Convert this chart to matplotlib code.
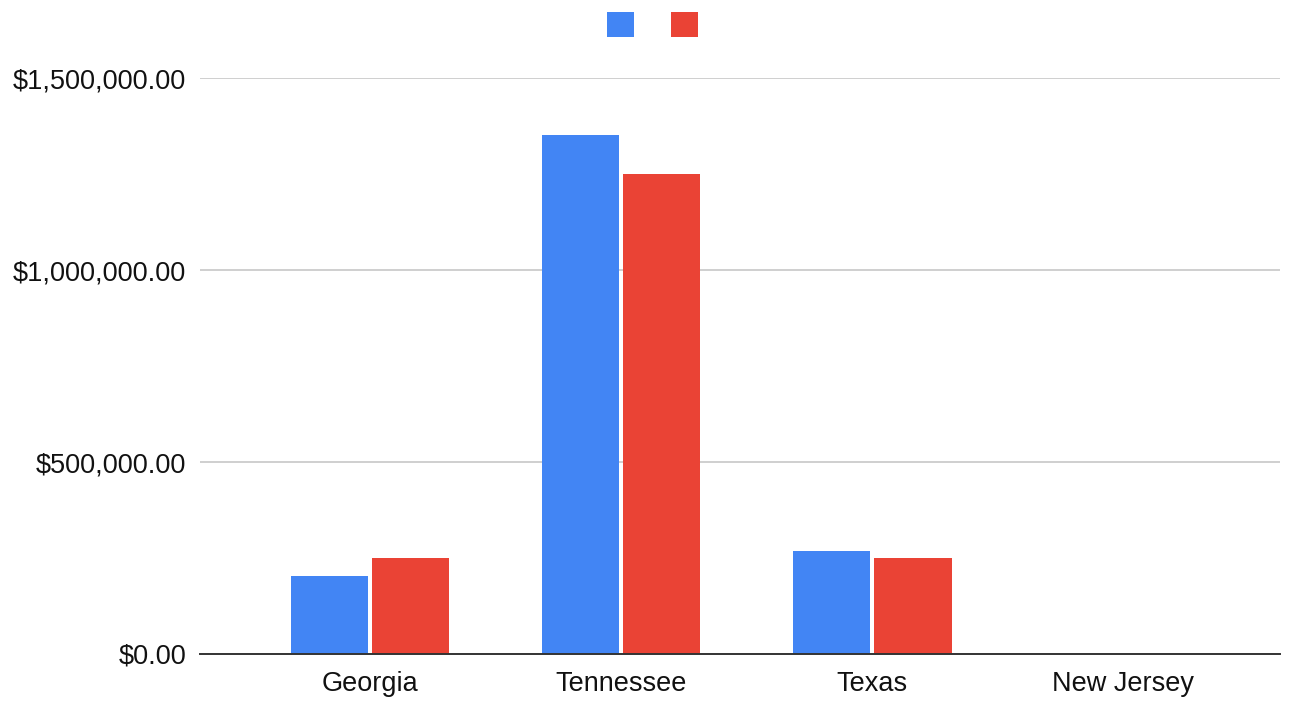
import numpy as np
import matplotlib
matplotlib.use('Agg')
import matplotlib.pyplot as plt
from matplotlib.ticker import FuncFormatter

# values
states = ['Georgia', 'Tennessee', 'Texas', 'New Jersey']
series_a = [203000, 1352000, 267000, 0]
series_b = [250000, 1250000, 250000, 0]
y_ticks = [0, 500000, 1000000, 1500000]

plt.rcParams['font.family'] = ['Liberation Sans', 'DejaVu Sans']

fig = plt.figure(figsize=(13.01, 7.02), dpi=100)
ax = fig.add_axes([200 / 1301, 48 / 702, 1080 / 1301, 576 / 702])

x = np.arange(len(states))
w = 0.307
b1 = ax.bar(x - 0.163, series_a, w, color='#4285F4', zorder=3)
b2 = ax.bar(x + 0.163, series_b, w, color='#EA4335', zorder=3)

ax.set_xlim(-0.677, 3.625)
ax.set_ylim(0, 1500000)
ax.set_yticks(y_ticks)
ax.yaxis.set_major_formatter(FuncFormatter(lambda v, p: '${:,.2f}'.format(v)))
ax.set_xticks(x)
ax.set_xticklabels(states)
ax.tick_params(axis='both', length=0, labelsize=19.5, colors='#111111')
ax.tick_params(axis='y', pad=10)
ax.tick_params(axis='x', pad=12)

ax.grid(axis='y', color='#cccccc', linewidth=1.3, zorder=0)
for s in ['top', 'right', 'left']:
    ax.spines[s].set_visible(False)
ax.spines['bottom'].set_color('#333333')
ax.spines['bottom'].set_linewidth(1.4)
ax.spines['bottom'].set_zorder(4)

fig.legend([b1, b2], ['', ''], loc='upper center', bbox_to_anchor=(0.5015, 1.0),
           ncol=2, frameon=False, fontsize=20, handlelength=1.0, handleheight=1.0,
           handletextpad=0, columnspacing=1.3, borderaxespad=0.05)

plt.savefig('out.png', dpi=100)
